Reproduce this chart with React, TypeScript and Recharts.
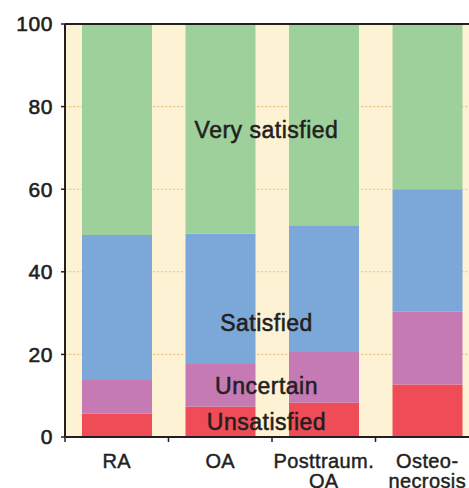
import { BarChart, Bar, XAxis, YAxis, CartesianGrid, ReferenceLine } from 'recharts';

const categories = ['RA', 'OA', 'Posttraum. OA', 'Osteo-necrosis'];
const categoryLines = [['RA'], ['OA'], ['Posttraum.', 'OA'], ['Osteo-', 'necrosis']];
const unsatisfied = [5.6, 7.3, 8.3, 12.7];
const uncertain = [8.2, 10.4, 12.3, 17.6];
const satisfied = [35.1, 31.5, 30.7, 29.7];
const verySatisfied = [51.1, 50.8, 48.7, 40];
const yTicks = [0, 20, 40, 60, 80, 100];

const seriesLabels = [
  { text: 'Very satisfied', y: 137.5 },
  { text: 'Satisfied', y: 330.5 },
  { text: 'Uncertain', y: 394.3 },
  { text: 'Unsatisfied', y: 430 },
];

const data = categories.map((name, i) => ({
  name,
  unsatisfied: unsatisfied[i],
  uncertain: uncertain[i],
  satisfied: satisfied[i],
  verySatisfied: verySatisfied[i],
}));

const INK = '#231f20';
const FONT = '"Liberation Sans", Arial, Helvetica, sans-serif';
const BAND = 103.5;

function CategoryTick(props: any) {
  const { x, y, index } = props;
  const lines = categoryLines[index] || [];
  return (
    <g>
      <line x1={x - BAND / 2} y1={y} x2={x - BAND / 2} y2={y + 5} stroke={INK} strokeWidth={1.5} />
      <text textAnchor="middle" fill={INK} stroke={INK} strokeWidth={0.45} fontSize={20} fontFamily={FONT} letterSpacing={0.4}>
        {lines.map((l: string, k: number) => (
          <tspan key={k} x={x} y={y + 31 + k * 19.5}>{l}</tspan>
        ))}
      </text>
    </g>
  );
}

function SeriesLabels() {
  return (
    <svg width={469} height={488} style={{ position: 'absolute', left: 0, top: 0, pointerEvents: 'none' }}>
      {seriesLabels.map((s) => (
        <text
          key={s.text}
          x={266.5}
          y={s.y}
          textAnchor="middle"
          fill={INK}
          stroke={INK}
          strokeWidth={0.55}
          fontSize={23}
          fontFamily={FONT}
          letterSpacing={0.5}
        >
          {s.text}
        </text>
      ))}
    </svg>
  );
}

export default function App() {
  return (
    <div style={{ position: 'fixed', left: 0, top: 0, width: 469, height: 488, overflow: 'hidden', background: '#fff' }}>
      <BarChart width={500} height={488} data={data} margin={{ top: 24, right: 21, left: 0, bottom: 0 }}>
        <CartesianGrid
          vertical={false}
          fill="#fef2d4"
          fillOpacity={1}
          stroke="#f2c684"
          strokeDasharray="2.5 1.5"
          strokeWidth={1.1}
        />
        <XAxis
          dataKey="name"
          height={51}
          axisLine={{ stroke: INK, strokeWidth: 2 }}
          tickLine={false}
          tickSize={0}
          tickMargin={0}
          interval={0}
          tick={<CategoryTick />}
        />
        <YAxis
          width={65}
          domain={[0, 100]}
          ticks={yTicks}
          interval={0}
          axisLine={{ stroke: INK, strokeWidth: 2 }}
          tickLine={{ stroke: INK, strokeWidth: 1.5 }}
          tickSize={4}
          tickMargin={8}
          tick={{ fill: INK, stroke: INK, strokeWidth: 0.6, fontSize: 21, fontFamily: FONT, letterSpacing: 0.6 }}
        />
        <Bar dataKey="unsatisfied" stackId="a" fill="#ef4c58" barSize={70} isAnimationActive={false} />
        <Bar dataKey="uncertain" stackId="a" fill="#c57ab3" barSize={70} isAnimationActive={false} />
        <Bar dataKey="satisfied" stackId="a" fill="#7ba7d9" barSize={70} isAnimationActive={false} />
        <Bar dataKey="verySatisfied" stackId="a" fill="#9dd09b" barSize={70} isAnimationActive={false} />
        <ReferenceLine y={100} stroke={INK} strokeWidth={2} ifOverflow="visible" />
      </BarChart>
      <SeriesLabels />
    </div>
  );
}
